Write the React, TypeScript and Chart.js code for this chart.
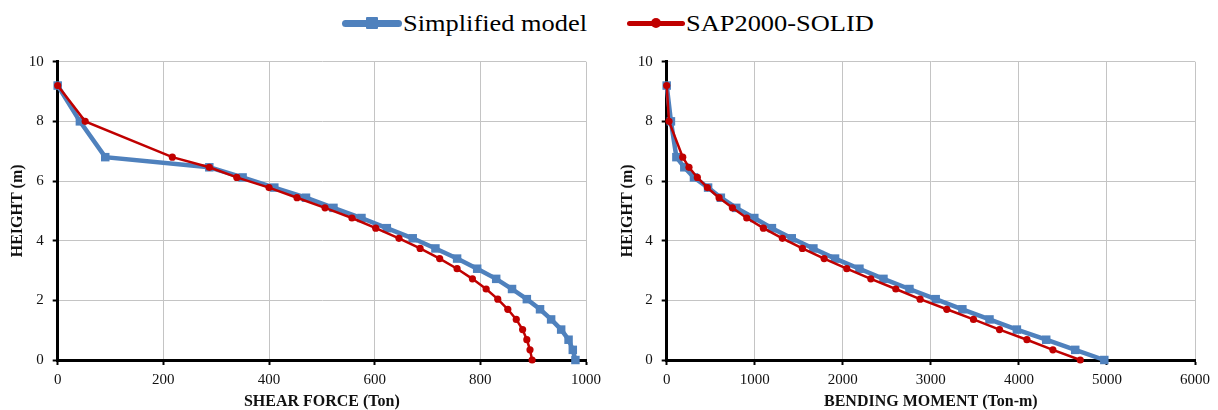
import React, { useEffect, useRef } from "react";
import { Chart, registerables } from "chart.js";

Chart.register(...registerables);

// Heights (m) shared by every series
const heights = [9.2, 8.0, 6.8, 6.46, 6.12, 5.78, 5.44, 5.1, 4.76, 4.42, 4.08, 3.74, 3.4, 3.06, 2.72, 2.38, 2.04, 1.7, 1.36, 1.02, 0.68, 0.34, 0];

// Shear force (Ton)
const shearSimplified = [0, 42, 90, 287, 350, 410, 470, 522, 575, 623, 672, 715, 756, 794, 830, 860, 888, 913, 934, 953, 967, 975, 980];
const shearSap = [0, 52, 217, 287, 339, 400, 453, 506, 557, 602, 646, 686, 723, 756, 785, 811, 833, 852, 868, 880, 888, 894, 898];

// Bending moment (Ton-m)
const momentSimplified = [0, 48, 110, 200, 310, 470, 615, 790, 995, 1195, 1420, 1666, 1912, 2189, 2462, 2757, 3055, 3358, 3666, 3977, 4310, 4640, 4970];
const momentSap = [0, 26, 182, 253, 348, 462, 595, 746, 909, 1098, 1314, 1541, 1788, 2045, 2318, 2602, 2878, 3181, 3484, 3780, 4091, 4386, 4697];

const seriesNames = ["Simplified model", "SAP2000-SOLID"];
const yTitle = "HEIGHT (m)";
const shearTitle = "SHEAR FORCE (Ton)";
const momentTitle = "BENDING MOMENT (Ton-m)";

const BLUE = "#4F81BD";
const RED = "#C00000";
const FONT = "Liberation Serif";

Chart.defaults.font.family = FONT;

type PanelProps = {
  left: number;
  width: number;
  yWidth: number;
  padRight: number;
  simplified: number[];
  sap: number[];
  xMax: number;
  xStep: number;
  xTitle: string;
};

function Panel({ left, width, yWidth, padRight, simplified, sap, xMax, xStep, xTitle }: PanelProps) {
  const ref = useRef<HTMLCanvasElement>(null);
  useEffect(() => {
    const toPts = (xs: number[]) => xs.map((x, i) => ({ x, y: heights[i] }));
    const chart = new Chart(ref.current!, {
      type: "scatter",
      data: {
        datasets: [
          {
            label: seriesNames[0],
            data: toPts(simplified),
            showLine: true,
            borderColor: BLUE,
            backgroundColor: BLUE,
            borderWidth: 4.5,
            pointStyle: "rect",
            pointRadius: 6,
            pointBorderWidth: 0,
            order: 1,
            clip: false,
          },
          {
            label: seriesNames[1],
            data: toPts(sap),
            showLine: true,
            borderColor: RED,
            backgroundColor: RED,
            borderWidth: 2.5,
            pointStyle: "circle",
            pointRadius: 3.6,
            pointBorderWidth: 0,
            order: 0,
            clip: false,
          },
        ],
      },
      options: {
        animation: false,
        responsive: false,
        devicePixelRatio: 1,
        layout: { padding: { left: 0, right: padRight, top: 21.7, bottom: 0 } },
        plugins: { legend: { display: false }, tooltip: { enabled: false } },
        scales: {
          x: {
            type: "linear",
            min: 0,
            max: xMax,
            afterFit: (s: any) => {
              s.height = 50;
            },
            ticks: {
              stepSize: xStep,
              padding: 6,
              color: "#111",
              font: { family: FONT, size: 15 },
              maxRotation: 0,
              callback: (v: any) => String(v),
            },
            grid: { color: "#c4c4c4", lineWidth: 1, tickColor: "#000", tickLength: 5, tickWidth: 2 },
            border: { color: "#000", width: 3 },
            title: {
              display: true,
              text: xTitle,
              color: "#111",
              font: { family: FONT, size: 16, weight: "bold", lineHeight: 1 },
              padding: { top: 0, bottom: 0 },
            },
          },
          y: {
            type: "linear",
            min: 0,
            max: 10,
            afterFit: (s: any) => {
              s.width = yWidth;
            },
            ticks: {
              stepSize: 2,
              padding: 9,
              color: "#111",
              font: { family: FONT, size: 15 },
              callback: (v: any) => String(v),
            },
            grid: { color: "#c4c4c4", lineWidth: 1, tickColor: "#000", tickLength: 5, tickWidth: 2 },
            border: { color: "#000", width: 3 },
            title: {
              display: true,
              text: yTitle,
              color: "#111",
              font: { family: FONT, size: 16, weight: "bold", lineHeight: 1 },
              padding: { top: 10, bottom: 0 },
            },
          },
        },
      },
    } as any);
    return () => chart.destroy();
  }, []);
  return (
    <div style={{ position: "absolute", left, top: 40, width, height: 370 }}>
      <canvas ref={ref} width={width} height={370} style={{ display: "block", width, height: 370 }} />
    </div>
  );
}

type LegendProps = {
  left: number;
  lineW: number;
  color: string;
  square: boolean;
  lineH: number;
  marker: number;
  label: string;
  textW: number;
};

function LegendItem({ left, lineW, color, square, lineH, marker, label, textW }: LegendProps) {
  return (
    <div style={{ position: "absolute", left, top: 11, height: 24, width: lineW + 1 + textW }}>
      <div style={{ position: "absolute", left: 0, top: 12 - lineH / 2, width: lineW, height: lineH, background: color, borderRadius: lineH / 2 }} />
      <div
        style={{
          position: "absolute",
          left: lineW / 2 - marker / 2,
          top: 12 - marker / 2,
          width: marker,
          height: marker,
          background: color,
          borderRadius: square ? 1 : marker / 2,
        }}
      />
      <div style={{ position: "absolute", left: lineW + 1, top: 0, width: textW, height: 24, overflow: "visible" }}>
        <span
          style={{
            display: "inline-block",
            fontFamily: FONT,
            fontSize: 24,
            color: "#000",
            lineHeight: "24px",
            whiteSpace: "nowrap",
            transform: "scaleX(1.1)",
            transformOrigin: "0 50%",
          }}
        >
          {label}
        </span>
      </div>
    </div>
  );
}

export default function App() {
  return (
    <div style={{ position: "fixed", left: 0, top: 0, width: 1218, height: 410, background: "#fff", overflow: "hidden" }}>
      <LegendItem left={342} lineW={60} color={BLUE} square={true} lineH={7} marker={12} label={seriesNames[0]} textW={185} />
      <LegendItem left={627} lineW={58} color={RED} square={false} lineH={5} marker={10} label={seriesNames[1]} textW={185} />
      <Panel left={0} width={610} yWidth={57.7} padRight={24} simplified={shearSimplified} sap={shearSap} xMax={1000} xStep={200} xTitle={shearTitle} />
      <Panel left={610} width={608} yWidth={56.7} padRight={23} simplified={momentSimplified} sap={momentSap} xMax={6000} xStep={1000} xTitle={momentTitle} />
    </div>
  );
}
